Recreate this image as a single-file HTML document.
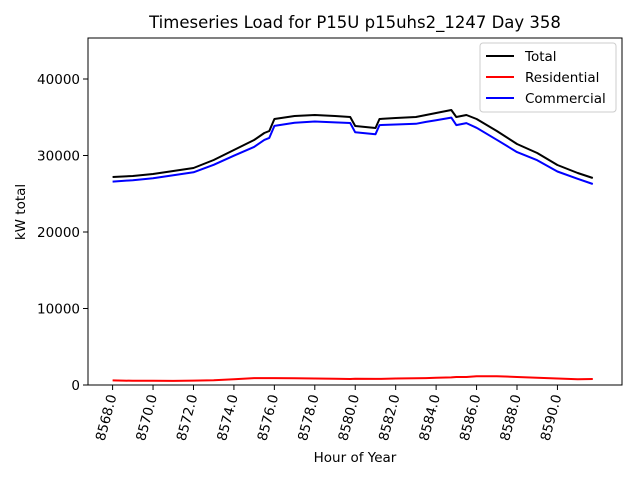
<!DOCTYPE html>
<html><head><meta charset="utf-8"><style>
body{margin:0;background:#fff}
svg text{font-family:"DejaVu Sans","Liberation Sans",sans-serif;fill:#000}
</style></head><body>
<svg id="chart" width="640" height="480" viewBox="0 0 640 480" xmlns="http://www.w3.org/2000/svg">
<rect width="640" height="480" fill="#fff"/>
<text x="355" y="28" font-size="16.5" text-anchor="middle">Timeseries Load for P15U p15uhs2_1247  Day 358</text>
<g id="plot"></g>
<rect x="88" y="38" width="534" height="347" fill="none" stroke="#000" stroke-width="1"/>
<text x="355" y="462" font-size="13.5" text-anchor="middle">Hour of Year</text>
<text transform="translate(25,212) rotate(-90)" font-size="13.5" text-anchor="middle">kW total</text>
<g>
<rect x="480" y="43" width="136" height="69" rx="3" fill="#fff" stroke="#ccc"/>
<line x1="486" y1="56" x2="514" y2="56" stroke="#000" stroke-width="2"/>
<text x="525" y="61" font-size="13.5">Total</text>
<line x1="486" y1="77" x2="514" y2="77" stroke="#f00" stroke-width="2"/>
<text x="525" y="82" font-size="13.5">Residential</text>
<line x1="486" y1="98" x2="514" y2="98" stroke="#00f" stroke-width="2"/>
<text x="525" y="103" font-size="13.5">Commercial</text>
</g>
</svg>
<script>
const hours=[8568,8569,8570,8571,8572,8573,8574,8575,8575.5,8575.75,8576,8577,8578,8579,8579.75,8580,8581,8581.2,8582,8583,8583.5,8584,8584.75,8585,8585.5,8586,8587,8588,8589,8590,8591,8591.75];
const total=[27190,27320,27580,27970,28370,29410,30720,32030,32940,33200,34770,35160,35290,35160,35030,33860,33590,34770,34900,35030,35290,35550,35950,35030,35290,34770,33200,31500,30330,28760,27710,27060];
const residential=[600,550,560,540,570,620,750,900,900,900,900,880,850,830,780,830,800,800,850,880,900,950,1000,1050,1050,1150,1150,1050,950,850,750,780];
const commercial=[26590,26770,27020,27430,27800,28790,29970,31130,32040,32300,33870,34280,34440,34330,34250,33030,32790,33970,34050,34150,34390,34600,34950,33980,34240,33620,32050,30450,29380,27910,26960,26280];
const xTicks=[8568,8570,8572,8574,8576,8578,8580,8582,8584,8586,8588,8590];
const yTicks=[0,10000,20000,30000,40000];
const X=h=>112.6+(h-8568)*20.22;
const Y=v=>385-v*0.00765;
const ns="http://www.w3.org/2000/svg";
const svg=document.getElementById('chart');
const plot=document.getElementById('plot');
function mk(t,a,p){const e=document.createElementNS(ns,t);for(const k in a)e.setAttribute(k,a[k]);(p||svg).appendChild(e);return e;}
xTicks.forEach(h=>{
 const l=mk('line',{x1:X(h),y1:385,x2:X(h),y2:390,stroke:'#000'});
 
 
 const t=mk('text',{transform:`translate(${X(h)+4},396) rotate(-75)`,'font-size':'13.5','text-anchor':'end'});
 t.textContent=h.toFixed(1);
 
 
});
yTicks.forEach(v=>{
 const l=mk('line',{x1:83,y1:Y(v),x2:88,y2:Y(v),stroke:'#000'});
 
 
 const t=mk('text',{x:80,y:Y(v)+5,'font-size':'13.5','text-anchor':'end'});
 t.textContent=String(v);
 
 
});
function series(vals,color,name){
 const d=vals.map((v,i)=>(i?'L':'M')+X(hours[i]).toFixed(1)+','+Y(v).toFixed(1)).join('');
 const p=mk('path',{d:d,fill:'none',stroke:color,'stroke-width':2,'stroke-linejoin':'round'},plot);
 
 
}
series(total,'#000','total-line');
series(residential,'#f00','residential-line');
series(commercial,'#00f','commercial-line');
</script>
</body></html>
